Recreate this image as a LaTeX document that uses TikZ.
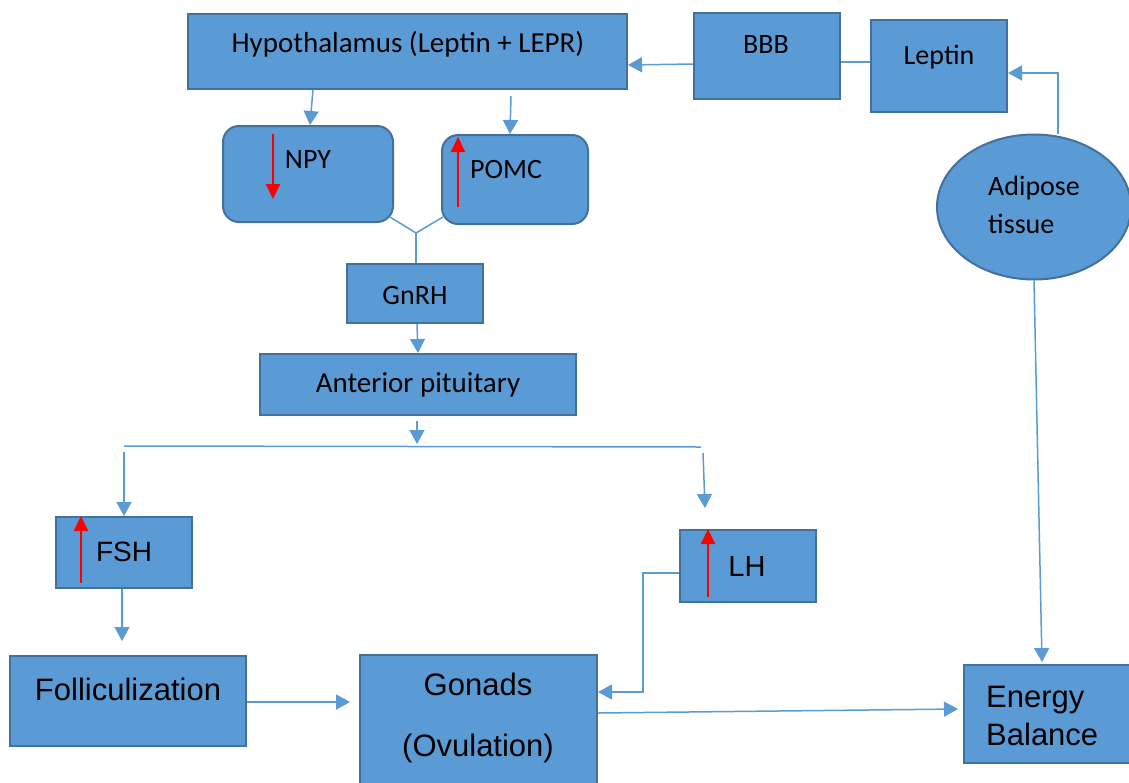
\documentclass[tikz,border=0pt]{standalone}
\usepackage{fontspec}
\setmainfont{Carlito}
\newfontfamily\arialf{Liberation Sans}
\usetikzlibrary{arrows.meta,shapes.geometric}
\definecolor{boxfill}{HTML}{5B9BD5}
\definecolor{boxline}{HTML}{41719C}
\definecolor{connc}{HTML}{5B9BD5}
\tikzset{
  box/.style={draw=boxline, fill=boxfill, line width=2pt, inner sep=0pt},
  rbox/.style={box, rounded corners=16pt},
  conn/.style={draw=connc, line width=1.5pt},
  arr/.style={conn, -{Triangle[length=14pt,width=15pt]}},
  redarr/.style={draw=red, line width=2pt, -{Triangle[length=15pt,width=14pt]}},
  cal/.style={font=\fontsize{28}{38}\selectfont, text=black, inner sep=0pt},
  ari/.style={font=\arialf\fontsize{31}{38}\selectfont, text=black, inner sep=0pt},
}
\begin{document}
\begin{tikzpicture}[x=1pt, y=-1pt]
\useasboundingbox (0,0) rectangle (1129,782);
% boxes
\node[box, minimum width=439pt, minimum height=75pt] (hyp) at (407.5,51) {};
\node[cal, font=\fontsize{29}{34}\selectfont] (hypt) at (408,44) {Hypothalamus (Leptin + LEPR)};
\node[box, minimum width=146pt, minimum height=86pt] (bbb) at (767,56) {};
\node[cal] (bbbt) at (766,45) {BBB};
\node[box, minimum width=136pt, minimum height=92pt] (leptin) at (939,66) {};
\node[cal] (leptint) at (939,57) {Leptin};
\node[box, ellipse, minimum width=194pt, minimum height=145pt] (adi) at (1034,207) {};
\node[cal, anchor=west, align=left] (adit) at (988,205) {Adipose\\tissue};
\node[rbox, minimum width=170pt, minimum height=96pt] (npy) at (308,174) {};
\node[cal] (npyt) at (308,160) {NPY};
\node[rbox, minimum width=146pt, minimum height=89pt] (pomc) at (515,179.5) {};
\node[cal] (pomct) at (506,170) {POMC};
\node[box, minimum width=136pt, minimum height=59pt] (gnrh) at (415,293.5) {};
\node[cal] (gnrht) at (415,296) {GnRH};
\node[box, minimum width=316pt, minimum height=61pt] (ant) at (418,384.5) {};
\node[cal, font=\fontsize{29}{34}\selectfont] (antt) at (418,385) {Anterior pituitary};
\node[box, minimum width=136pt, minimum height=71pt] (fsh) at (124,552.5) {};
\node[ari, font=\arialf\fontsize{28}{34}\selectfont] (fsht) at (124,552) {FSH};
\node[box, minimum width=136pt, minimum height=72pt] (lh) at (748,566) {};
\node[ari, font=\arialf\fontsize{29}{34}\selectfont] (lht) at (747,567) {LH};
\node[box, minimum width=236pt, minimum height=90pt] (foll) at (128,700.5) {};
\node[ari] (follt) at (128,689) {Folliculization};
\node[box, minimum width=237pt, minimum height=140pt] (gon) at (478.5,725) {};
\node[ari, font=\arialf\fontsize{31}{61}\selectfont, align=center] (gont) at (478,718) {Gonads\\(Ovulation)};
\node[box, minimum width=180pt, minimum height=98pt] (energy) at (1054,714) {};
\node[ari, anchor=west, align=left] (energyt) at (986,716) {Energy\\Balance};
% red arrows
\coordinate (r1a) at (273,134); \coordinate (r1b) at (273,199);
\draw[redarr] (r1a) -- (r1b);
\coordinate (r2a) at (458,207); \coordinate (r2b) at (458,137);
\draw[redarr] (r2a) -- (r2b);
\coordinate (r3a) at (81,583); \coordinate (r3b) at (81,516);
\draw[redarr] (r3a) -- (r3b);
\coordinate (r4a) at (708,597); \coordinate (r4b) at (708,529);
\draw[redarr] (r4a) -- (r4b);
% connectors
\draw[arr] (bbb.west |- 0,64) -- (hyp.east |- 0,65);
\draw[conn] (leptin.west |- 0,62) -- (bbb.east |- 0,62);
\draw[arr] (adi.north -| 1058,0) |- (leptin.east |- 0,73);
\coordinate (ebtop) at (1042,662);
\draw[arr] (adi.south) -- (ebtop);
\draw[arr] (hyp.south -| 313,0) -- (npy.north -| 310,0);
\coordinate (p1) at (511,96);
\draw[arr] (p1) -- (pomc.north -| 510,0);
\coordinate (j) at (416,233);
\draw[conn] (390,217) -- (j) -- (443,217);
\draw[conn] (j) -- (gnrh.north -| 416,0);
\draw[arr] (gnrh.south -| 417,0) -- (ant.north -| 418,0);
\coordinate (a1) at (417,421); \coordinate (a2) at (417,444);
\draw[arr] (a1) -- (a2);
\coordinate (h1) at (124,446); \coordinate (h2) at (701,447);
\draw[conn] (h1) -- (h2);
\coordinate (f1) at (124,452);
\draw[arr] (f1) -- (fsh.north -| 124,0);
\coordinate (l1) at (703,453); \coordinate (l2) at (705,508);
\draw[arr] (l1) -- (l2);
\coordinate (fo1) at (122,641);
\draw[arr] (fsh.south -| 122,0) -- (fo1);
\coordinate (g1) at (350,702);
\draw[arr] (foll.east |- 0,702) -- (g1);
\draw[arr] (lh.west |- 0,573) -| (643,692) -- (gon.east |- 0,692);
\coordinate (e1) at (958,709);
\draw[arr] (gon.east |- 0,713) -- (e1);
\end{tikzpicture}
\end{document}
